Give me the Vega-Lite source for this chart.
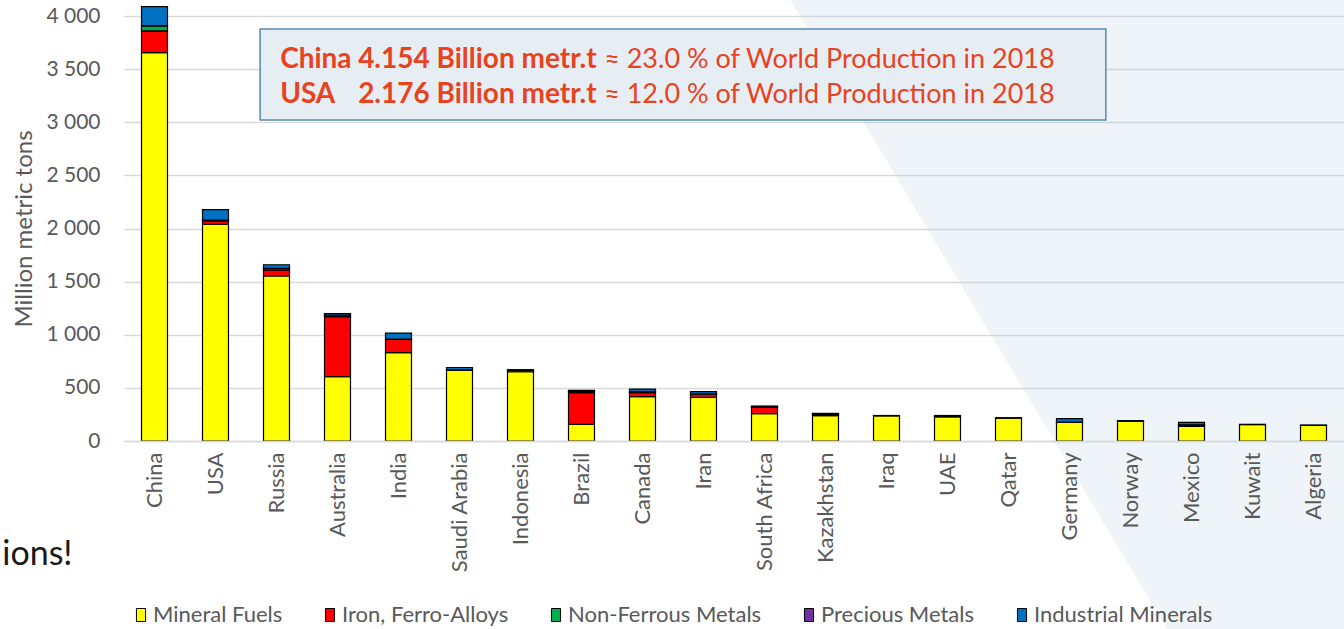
{
  "$schema": "https://vega.github.io/schema/vega-lite/v6.json",
  "width": 1220,
  "height": 425,
  "autosize": {"type": "none"},
  "padding": {"left": 124, "top": 16, "right": 0, "bottom": 188},
  "background": "white",
  "config": {
    "font": "Lato",
    "view": {"stroke": null}
  },
  "datasets": {
    "prod": [
      {"country": "China", "type": "Mineral Fuels", "value": 3655},
      {"country": "China", "type": "Iron, Ferro-Alloys", "value": 205},
      {"country": "China", "type": "Non-Ferrous Metals", "value": 47},
      {"country": "China", "type": "Precious Metals", "value": 3},
      {"country": "China", "type": "Industrial Minerals", "value": 179},
      {"country": "USA", "type": "Mineral Fuels", "value": 2040},
      {"country": "USA", "type": "Iron, Ferro-Alloys", "value": 32},
      {"country": "USA", "type": "Non-Ferrous Metals", "value": 5},
      {"country": "USA", "type": "Precious Metals", "value": 1},
      {"country": "USA", "type": "Industrial Minerals", "value": 100},
      {"country": "Russia", "type": "Mineral Fuels", "value": 1553},
      {"country": "Russia", "type": "Iron, Ferro-Alloys", "value": 57},
      {"country": "Russia", "type": "Non-Ferrous Metals", "value": 14},
      {"country": "Russia", "type": "Precious Metals", "value": 2},
      {"country": "Russia", "type": "Industrial Minerals", "value": 33},
      {"country": "Australia", "type": "Mineral Fuels", "value": 605},
      {"country": "Australia", "type": "Iron, Ferro-Alloys", "value": 565},
      {"country": "Australia", "type": "Non-Ferrous Metals", "value": 14},
      {"country": "Australia", "type": "Precious Metals", "value": 2},
      {"country": "Australia", "type": "Industrial Minerals", "value": 14},
      {"country": "India", "type": "Mineral Fuels", "value": 831},
      {"country": "India", "type": "Iron, Ferro-Alloys", "value": 126},
      {"country": "India", "type": "Non-Ferrous Metals", "value": 3},
      {"country": "India", "type": "Industrial Minerals", "value": 56},
      {"country": "Saudi Arabia", "type": "Mineral Fuels", "value": 668},
      {"country": "Saudi Arabia", "type": "Iron, Ferro-Alloys", "value": 2},
      {"country": "Saudi Arabia", "type": "Industrial Minerals", "value": 22},
      {"country": "Indonesia", "type": "Mineral Fuels", "value": 652},
      {"country": "Indonesia", "type": "Non-Ferrous Metals", "value": 12},
      {"country": "Indonesia", "type": "Industrial Minerals", "value": 7},
      {"country": "Brazil", "type": "Mineral Fuels", "value": 157},
      {"country": "Brazil", "type": "Iron, Ferro-Alloys", "value": 298},
      {"country": "Brazil", "type": "Non-Ferrous Metals", "value": 10},
      {"country": "Brazil", "type": "Precious Metals", "value": 1},
      {"country": "Brazil", "type": "Industrial Minerals", "value": 11},
      {"country": "Canada", "type": "Mineral Fuels", "value": 417},
      {"country": "Canada", "type": "Iron, Ferro-Alloys", "value": 38},
      {"country": "Canada", "type": "Non-Ferrous Metals", "value": 8},
      {"country": "Canada", "type": "Precious Metals", "value": 1},
      {"country": "Canada", "type": "Industrial Minerals", "value": 25},
      {"country": "Iran", "type": "Mineral Fuels", "value": 411},
      {"country": "Iran", "type": "Iron, Ferro-Alloys", "value": 28},
      {"country": "Iran", "type": "Non-Ferrous Metals", "value": 3},
      {"country": "Iran", "type": "Industrial Minerals", "value": 22},
      {"country": "South Africa", "type": "Mineral Fuels", "value": 257},
      {"country": "South Africa", "type": "Iron, Ferro-Alloys", "value": 62},
      {"country": "South Africa", "type": "Non-Ferrous Metals", "value": 2},
      {"country": "South Africa", "type": "Precious Metals", "value": 1},
      {"country": "South Africa", "type": "Industrial Minerals", "value": 7},
      {"country": "Kazakhstan", "type": "Mineral Fuels", "value": 238},
      {"country": "Kazakhstan", "type": "Iron, Ferro-Alloys", "value": 12},
      {"country": "Kazakhstan", "type": "Non-Ferrous Metals", "value": 6},
      {"country": "Kazakhstan", "type": "Industrial Minerals", "value": 4},
      {"country": "Iraq", "type": "Mineral Fuels", "value": 237},
      {"country": "Iraq", "type": "Industrial Minerals", "value": 3},
      {"country": "UAE", "type": "Mineral Fuels", "value": 228},
      {"country": "UAE", "type": "Non-Ferrous Metals", "value": 4},
      {"country": "UAE", "type": "Industrial Minerals", "value": 8},
      {"country": "Qatar", "type": "Mineral Fuels", "value": 216},
      {"country": "Qatar", "type": "Industrial Minerals", "value": 3},
      {"country": "Germany", "type": "Mineral Fuels", "value": 175},
      {"country": "Germany", "type": "Iron, Ferro-Alloys", "value": 1},
      {"country": "Germany", "type": "Non-Ferrous Metals", "value": 1},
      {"country": "Germany", "type": "Industrial Minerals", "value": 33},
      {"country": "Norway", "type": "Mineral Fuels", "value": 186},
      {"country": "Norway", "type": "Non-Ferrous Metals", "value": 2},
      {"country": "Norway", "type": "Industrial Minerals", "value": 3},
      {"country": "Mexico", "type": "Mineral Fuels", "value": 138},
      {"country": "Mexico", "type": "Iron, Ferro-Alloys", "value": 10},
      {"country": "Mexico", "type": "Non-Ferrous Metals", "value": 4},
      {"country": "Mexico", "type": "Precious Metals", "value": 1},
      {"country": "Mexico", "type": "Industrial Minerals", "value": 23},
      {"country": "Kuwait", "type": "Mineral Fuels", "value": 155},
      {"country": "Kuwait", "type": "Industrial Minerals", "value": 2},
      {"country": "Algeria", "type": "Mineral Fuels", "value": 148},
      {"country": "Algeria", "type": "Industrial Minerals", "value": 2}
    ],
    "note": [
      {"who": "China\nUSA", "amount": "4.154 Billion metr.t\n2.176 Billion metr.t", "share": "≈ 23.0 % of World Production in 2018\n≈ 12.0 % of World Production in 2018", "fragment": "ions!"}
    ]
  },
  "layer": [
    {
      "data": {"name": "note"},
      "mark": {
        "type": "rect",
        "clip": false,
        "fill": {
          "gradient": "linear",
          "x1": 0.065, "y1": 0, "x2": 1.065, "y2": -0.636,
          "stops": [
            {"offset": 0, "color": "rgba(255,255,255,0)"},
            {"offset": 0.0005, "color": "rgba(180,205,222,0.22)"},
            {"offset": 1, "color": "rgba(180,205,222,0.22)"}
          ]
        }
      },
      "encoding": {
        "x": {"datum": "South Africa", "bandPosition": 0},
        "x2": {"value": "width"},
        "y": {"datum": 4150},
        "y2": {"datum": -1769}
      }
    },
    {
      "data": {"name": "prod"},
      "transform": [
        {"calculate": "indexof(['Mineral Fuels','Iron, Ferro-Alloys','Non-Ferrous Metals','Precious Metals','Industrial Minerals'], datum.type)", "as": "stackIndex"}
      ],
      "mark": {"type": "bar", "stroke": "black", "strokeWidth": 1.2},
      "encoding": {
        "x": {
          "field": "country",
          "type": "nominal",
          "scale": {
            "domain": ["China", "USA", "Russia", "Australia", "India", "Saudi Arabia", "Indonesia", "Brazil", "Canada", "Iran", "South Africa", "Kazakhstan", "Iraq", "UAE", "Qatar", "Germany", "Norway", "Mexico", "Kuwait", "Algeria"],
            "paddingInner": 0.574,
            "paddingOuter": 0.287
          },
          "axis": {
            "title": null,
            "labelAngle": -90,
            "labelFontSize": 22,
            "labelColor": "#595959",
            "labelPadding": 11,
            "ticks": false,
            "domain": true,
            "domainColor": "#d9d9d9",
            "domainWidth": 1.5,
            "zindex": 1
          }
        },
        "y": {
          "field": "value",
          "type": "quantitative",
          "stack": "zero",
          "scale": {"domain": [0, 4000], "nice": false},
          "axis": {
            "title": "Million metric tons",
            "titleFontSize": 24,
            "titleFontWeight": "normal",
            "titleColor": "#595959",
            "titlePadding": 9,
            "values": [0, 500, 1000, 1500, 2000, 2500, 3000, 3500, 4000],
            "labelExpr": "replace(format(datum.value, ','), ',', ' ')",
            "labelFontSize": 21,
            "labelColor": "#595959",
            "labelPadding": 24,
            "ticks": false,
            "domain": false,
            "grid": true,
            "gridColor": "#d9d9d9",
            "gridWidth": 1.5
          }
        },
        "color": {
          "field": "type",
          "type": "nominal",
          "scale": {
            "domain": ["Mineral Fuels", "Iron, Ferro-Alloys", "Non-Ferrous Metals", "Precious Metals", "Industrial Minerals"],
            "range": ["#FFFF00", "#FF0000", "#00B050", "#7030A0", "#0070C0"]
          },
          "legend": {
            "title": null,
            "orient": "none",
            "direction": "horizontal",
            "legendX": 6,
            "legendY": 588,
            "symbolType": "M-0.7,-1H0.7V1H-0.7Z",
            "symbolSize": 169,
            "symbolStrokeColor": "black",
            "symbolStrokeWidth": 1,
            "symbolOpacity": 1,
            "labelFontSize": 22,
            "labelColor": "#595959",
            "labelOffset": 1,
            "columnPadding": 36,
            "labelLimit": 400
          }
        },
        "order": {"field": "stackIndex", "type": "quantitative"}
      }
    },
    {
      "data": {"name": "note"},
      "mark": {"type": "rect", "fill": "#E6EEF4", "stroke": "#5A8AA8", "strokeWidth": 1.5},
      "encoding": {
        "x": {"datum": "Russia", "bandPosition": -0.13},
        "x2": {"datum": "Germany", "bandPosition": 1.9},
        "y": {"datum": 3878},
        "y2": {"datum": 3021}
      }
    },
    {
      "data": {"name": "note"},
      "mark": {"type": "text", "align": "left", "baseline": "alphabetic", "lineBreak": "\n", "lineHeight": 35, "fontSize": 28, "fontWeight": "bold", "color": "#E8421E", "dx": 20},
      "encoding": {
        "x": {"datum": "Russia", "bandPosition": -0.13},
        "y": {"datum": 3510},
        "text": {"field": "who"}
      }
    },
    {
      "data": {"name": "note"},
      "mark": {"type": "text", "align": "left", "baseline": "alphabetic", "lineBreak": "\n", "lineHeight": 35, "fontSize": 28, "fontWeight": "bold", "color": "#E8421E", "dx": 98},
      "encoding": {
        "x": {"datum": "Russia", "bandPosition": -0.13},
        "y": {"datum": 3510},
        "text": {"field": "amount"}
      }
    },
    {
      "data": {"name": "note"},
      "mark": {"type": "text", "align": "left", "baseline": "alphabetic", "lineBreak": "\n", "lineHeight": 35, "fontSize": 27, "fontWeight": "normal", "color": "#E8421E", "dx": 344},
      "encoding": {
        "x": {"datum": "Russia", "bandPosition": -0.13},
        "y": {"datum": 3510},
        "text": {"field": "share"}
      }
    },
    {
      "data": {"name": "note"},
      "mark": {"type": "text", "align": "right", "baseline": "alphabetic", "fontSize": 34, "color": "#1a1a1a", "clip": false, "dx": -69},
      "encoding": {
        "x": {"datum": "China", "bandPosition": 0},
        "y": {"datum": -1167},
        "text": {"field": "fragment"}
      }
    }
  ]
}
